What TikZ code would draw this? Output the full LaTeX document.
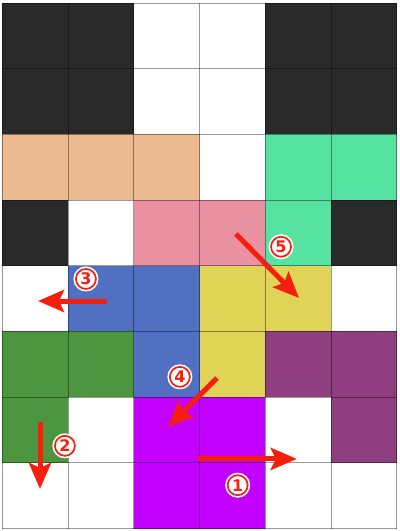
\documentclass[tikz,border=0pt]{standalone}
\usepackage{fontspec}
\setsansfont{DejaVu Sans}
\usetikzlibrary{arrows.meta}
\definecolor{cK}{HTML}{2A2A2A}
\definecolor{cW}{HTML}{FFFFFF}
\definecolor{cP}{HTML}{EBBA8E}
\definecolor{cG}{HTML}{56E3A2}
\definecolor{cR}{HTML}{E991A0}
\definecolor{cB}{HTML}{5170C2}
\definecolor{cY}{HTML}{E0D456}
\definecolor{cD}{HTML}{4B963F}
\definecolor{cU}{HTML}{8F3E80}
\definecolor{cM}{HTML}{C300FF}
\definecolor{arrowred}{HTML}{F51E0F}
\begin{document}
\begin{tikzpicture}[x=65.7pt,y=-65.7pt,
  move/.style = {draw=arrowred, line width=5pt, -{Stealth[length=26pt,width=22pt,inset=5pt]}},
  num/.style = {circle, draw=arrowred, line width=1.7pt, fill=white, text=arrowred,
    font=\sffamily\bfseries\fontsize{16pt}{16pt}\selectfont, inner sep=0pt, minimum size=20pt,
    preaction={draw=white, line width=5pt}},]
\useasboundingbox (-0.038,-0.046) rectangle (6.05,8.037);
% cells
\foreach \row [count=\j from 0] in {{K,K,W,W,K,K},{K,K,W,W,K,K},{P,P,P,W,G,G},{K,W,R,R,G,K},
  {W,B,B,Y,Y,W},{D,D,B,Y,U,U},{D,W,M,M,W,U},{W,W,M,M,W,W}}
  \foreach \c [count=\i from 0] in \row
    \fill[color=c\c] (\i,\j) rectangle ++(1,1);
\foreach \i in {0,...,6}
  \draw[black, opacity=0.4, line width=0.9pt] (\i,0)--(\i,8);
\foreach \j in {0,...,8}
  \draw[black, opacity=0.4, line width=0.9pt] (0,\j)--(6,\j);
% arrow ends
\coordinate (s1) at (2.976,6.94);
\coordinate (e1) at (4.48,6.94);
\coordinate (s2) at (0.571,6.377);
\coordinate (e2) at (0.571,7.397);
\coordinate (s3) at (1.59,4.536);
\coordinate (e3) at (0.54,4.536);
\coordinate (s4) at (3.265,5.708);
\coordinate (e4) at (2.519,6.454);
\coordinate (s5) at (3.554,3.516);
\coordinate (e5) at (4.513,4.49);
\draw[move] (s1)--(e1);
\draw[move] (s2)--(e2);
\draw[move] (s3)--(e3);
\draw[move] (s4)--(e4);
\draw[move] (s5)--(e5);
% step numbers
\node (n1) at (3.58,7.34)[num] {1};
\node (n2) at (0.95,6.74)[num] {2};
\node (n3) at (1.27,4.20)[num] {3};
\node (n4) at (2.70,5.69)[num] {4};
\node (n5) at (4.24,3.71)[num] {5};
\end{tikzpicture}
\end{document}
